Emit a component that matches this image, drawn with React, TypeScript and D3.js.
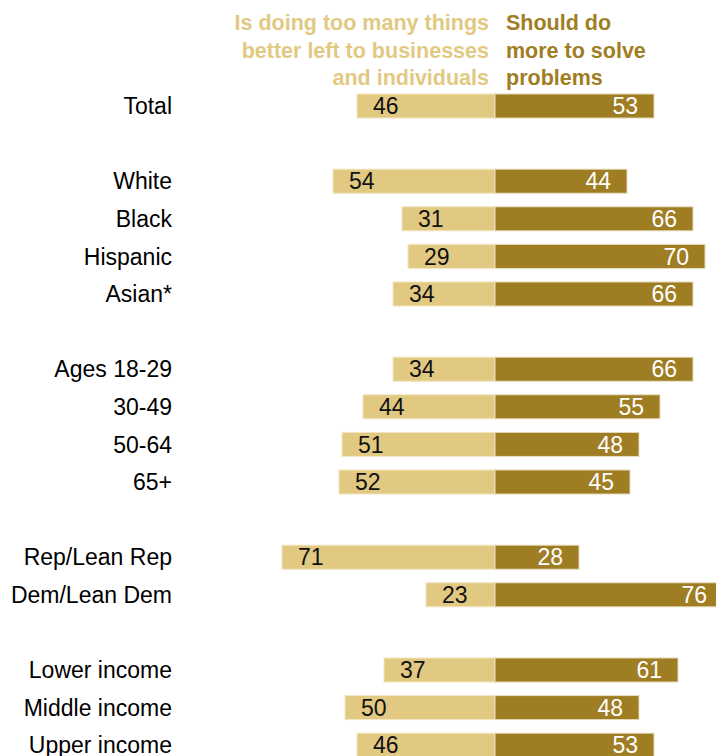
import React from "react";
import * as d3 from "d3";

const categories = [
  "Total",
  "",
  "White",
  "Black",
  "Hispanic",
  "Asian*",
  "",
  "Ages 18-29",
  "30-49",
  "50-64",
  "65+",
  "",
  "Rep/Lean Rep",
  "Dem/Lean Dem",
  "",
  "Lower income",
  "Middle income",
  "Upper income",
];
const tooMuch = [46, null, 54, 31, 29, 34, null, 34, 44, 51, 52, null, 71, 23, null, 37, 50, 46];
const doMore = [53, null, 44, 66, 70, 66, null, 66, 55, 48, 45, null, 28, 76, null, 61, 48, 53];

const leftHeader = ["Is doing too many things", "better left to businesses", "and individuals"];
const rightHeader = ["Should do", "more to solve", "problems"];

const LIGHT = "#E2C982";
const DARK = "#9F7D23";
const FONT = "'Liberation Sans', Arial, sans-serif";

export default function App() {
  const W = 716;
  const H = 756;
  const center = 495;
  const x = d3.scaleLinear().domain([0, 100]).range([0, 300]);
  const y = d3
    .scaleBand<number>()
    .domain(d3.range(categories.length))
    .range([106 - 37.6 / 2, 106 - 37.6 / 2 + 37.6 * categories.length])
    .paddingInner(0.36)
    .paddingOuter(0.18);
  const bh = y.bandwidth();
  const yc = (i: number) => (y(i) as number) + bh / 2;

  return (
    <svg
      width={W}
      height={H}
      style={{ position: "absolute", left: 0, top: 0, background: "#fff" }}
      fontFamily={FONT}
    >
      {leftHeader.map((t, i) => (
        <text
          key={"lh" + i}
          x={489}
          y={30 + i * 27.5}
          textAnchor="end"
          fill={LIGHT}
          fontWeight="bold"
          fontSize={21.5}
        >
          {t}
        </text>
      ))}
      {rightHeader.map((t, i) => (
        <text
          key={"rh" + i}
          x={506}
          y={30 + i * 27.5}
          textAnchor="start"
          fill={DARK}
          fontWeight="bold"
          fontSize={21.5}
        >
          {t}
        </text>
      ))}
      {categories.map((c, i) => {
        if (!c) return null;
        const l = tooMuch[i] as number;
        const r = doMore[i] as number;
        const cy = yc(i);
        return (
          <g key={c}>
            <text x={172} y={cy} dy="0.36em" textAnchor="end" fontSize={23} fill="#000">
              {c}
            </text>
            <rect
              x={center - x(l)}
              y={y(i)}
              width={x(l)}
              height={bh}
              fill={LIGHT}
              stroke="#F3E6C4"
              strokeWidth={1}
            />
            <rect
              x={center}
              y={y(i)}
              width={x(r)}
              height={bh}
              fill={DARK}
              stroke="#E8DDBF"
              strokeWidth={1}
            />
            <text
              x={center - x(l) + 16}
              y={cy}
              dy="0.36em"
              fontSize={23}
              fill="#111"
            >
              {l}
            </text>
            <text
              x={center + x(r) - 16}
              y={cy}
              dy="0.36em"
              textAnchor="end"
              fontSize={23}
              fill="#fff"
            >
              {r}
            </text>
          </g>
        );
      })}
    </svg>
  );
}
